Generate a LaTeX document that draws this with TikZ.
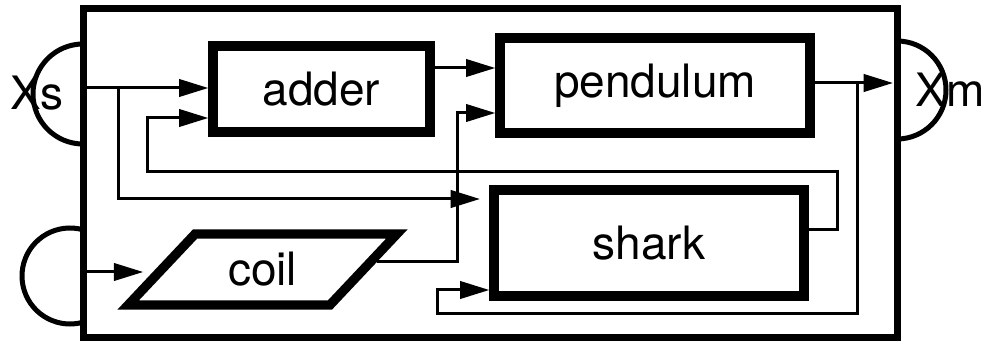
\documentclass[tikz,border=0pt]{standalone}
\usepackage{fontspec}
\setmainfont{TeX Gyre Heros}
\usetikzlibrary{arrows.meta,shapes.geometric}

\begin{document}
\begin{tikzpicture}[
    x=0.75pt,
    y=0.75pt,
    block/.style={draw, line width=7pt, inner sep=0pt, font=\fontsize{34.5}{40}\selectfont},
    signal/.style={-{Triangle[length=22pt,width=13pt]}, line width=2.25pt},
    port/.style={line width=3.75pt},
    tag/.style={anchor=base, inner sep=0pt, font=\fontsize{34.5}{40}\selectfont}
]
\useasboundingbox (0,0) rectangle (990,343);

% Frame and ports
\draw[line width=5.25pt] (83,5) rectangle (897,334);
\draw[port] (83,249) ++(90:50) arc[start angle=90, end angle=270, radius=50];
\draw[port] (70,67) ++(74:48) arc[start angle=74, end angle=286, radius=48];
\draw[port] (897,253) ++(90:49) arc[start angle=90, end angle=-90, radius=49];
\node[tag] (xs) at (37,233) {Xs};
\node[tag] (xm) at (950,236) {Xm};

% Blocks
\node[block, minimum width=162.75pt, minimum height=64.5pt] (adder) at (321.5,254) {adder};
\node[block, minimum width=232.5pt, minimum height=71.25pt] (pendulum) at (655,257.5) {pendulum};
\node[block, minimum width=232.5pt, minimum height=79.5pt] (shark) at (649,100) {shark};
\node[block, trapezium, trapezium left angle=45, trapezium right angle=135,
    trapezium stretches=true, minimum width=201.75pt, minimum height=53.25pt] (coil) at (262.5,73.5) {coil};

% Points on the frame
\coordinate (sin) at (87,255);
\coordinate (cin) at (87,71);
\coordinate (mout) at (893,260);
\coordinate (split1) at (118,255);
\coordinate (split2) at (857,260);

% Signals
\draw[signal] (sin) -- (sin -| adder.west);
\draw[signal, shorten >=7pt] (split1) |- (shark.west |- 0,144);
\draw[signal] (shark.east |- 0,113) -- (837,113) |- (147,171) |- (adder.west |- 0,225);
\draw[signal] (adder.east |- 0,275) -- (pendulum.west |- 0,275);
\draw[signal] (coil.4) -| (457,230) -- (pendulum.west |- 0,230);
\draw[signal] (pendulum.east |- mout) -- (mout);
\draw[signal] (split2) |- (437,29) |- (shark.west |- 0,53);
\draw[signal, shorten >=9pt] (cin) -- (cin -| coil.west);

\end{tikzpicture}
\end{document}
